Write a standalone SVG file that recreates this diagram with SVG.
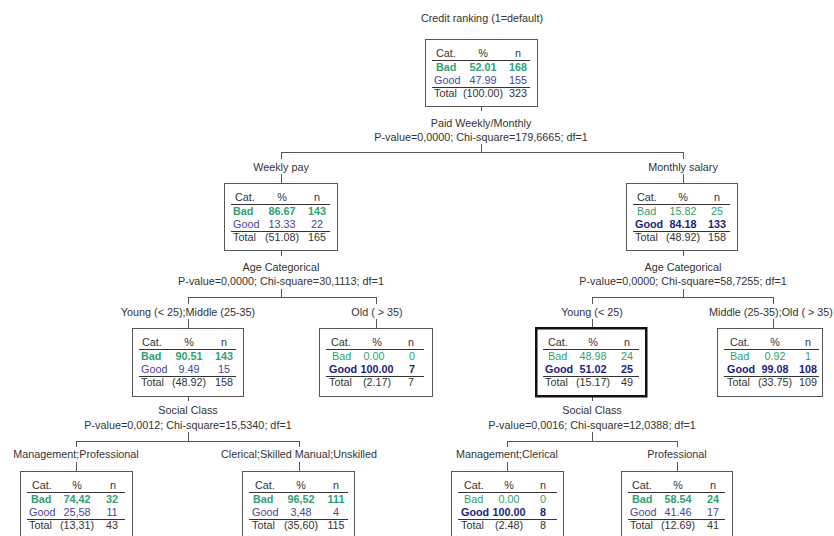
<svg xmlns="http://www.w3.org/2000/svg" width="834" height="536" viewBox="0 0 834 536">
<style>
text{font-family:"Liberation Sans",Arial,sans-serif;font-size:10.8px;fill:#333}
.m{text-anchor:middle}
.bad{fill:#2f9f74}
.good{fill:#45459a}
.b{font-weight:bold}
.good.b{fill:#1e1e7e}
.box{fill:#fff;stroke:#555;stroke-width:1}
.sel{fill:#fff;stroke:#111;stroke-width:2.5}
.rule{stroke:#333;stroke-width:1}
.con{fill:none;stroke:#555;stroke-width:1}
</style>
<rect width="834" height="536" fill="#fff"/>
<text class="m" x="482" y="22">Credit ranking (1=default)</text>

<g id="connectors">
<path class="con" d="M481.5,106V111M481.5,144V152M281,152.5H684M281.5,152V159M683.5,152V159M281.5,174V183M683.5,174V183"/>
<path class="con" d="M281.5,251V256M281.5,289V297M188,297.5H377M188.5,297V304M376.5,297V304M188.5,319V328M376.5,319V328"/>
<path class="con" d="M683.5,250V256M683.5,289V297M592,297.5H774M592.5,297V304M773.5,297V304M592.5,319V327M773.5,319V328"/>
<path class="con" d="M188.5,396V401M188.5,432V441M76,441.5H300M76.5,441V447M299.5,441V447M76.5,462V471M299.5,462V471"/>
<path class="con" d="M592.5,396V401M592.5,432V441M507,441.5H678M507.5,441V447M677.5,441V447M507.5,462V471M677.5,462V471"/>
</g>

<g id="split-labels">
<text class="m" x="481" y="127">Paid Weekly/Monthly</text>
<text class="m" x="481" y="141">P-value=0,0000; Chi-square=179,6665; df=1</text>
<text class="m" x="281" y="171">Weekly pay</text>
<text class="m" x="683" y="171">Monthly salary</text>
<text class="m" x="281" y="271">Age Categorical</text>
<text class="m" x="281" y="285">P-value=0,0000; Chi-square=30,1113; df=1</text>
<text class="m" x="683" y="271">Age Categorical</text>
<text class="m" x="683" y="285">P-value=0,0000; Chi-square=58,7255; df=1</text>
<text class="m" x="188" y="316">Young (&lt; 25);Middle (25-35)</text>
<text class="m" x="377" y="316">Old ( &gt; 35)</text>
<text class="m" x="592" y="316">Young (&lt; 25)</text>
<text class="m" x="771" y="316">Middle (25-35);Old ( &gt; 35)</text>
<text class="m" x="188" y="414">Social Class</text>
<text class="m" x="188" y="429">P-value=0,0012; Chi-square=15,5340; df=1</text>
<text class="m" x="592" y="414">Social Class</text>
<text class="m" x="592" y="429">P-value=0,0016; Chi-square=12,0388; df=1</text>
<text class="m" x="76" y="458">Management;Professional</text>
<text class="m" x="299" y="458">Clerical;Skilled Manual;Unskilled</text>
<text class="m" x="507" y="458">Management;Clerical</text>
<text class="m" x="677" y="458">Professional</text>
</g>

<g id="node0" transform="translate(425,39)">
<rect class="box" x="0.5" y="0.5" width="112" height="67"/>
<text x="11" y="18">Cat.</text><text class="m" x="58" y="18">%</text><text class="m" x="93" y="18">n</text>
<line class="rule" x1="7" y1="21.5" x2="105" y2="21.5"/>
<text class="bad b" x="11" y="32">Bad</text><text class="bad b m" x="58" y="32">52.01</text><text class="bad b m" x="93" y="32">168</text>
<text class="good" x="9" y="45">Good</text><text class="good m" x="58" y="45">47.99</text><text class="good m" x="93" y="45">155</text>
<line class="rule" x1="7" y1="48.5" x2="105" y2="48.5"/>
<text x="9" y="58">Total</text><text class="m" x="58" y="58">(100.00)</text><text class="m" x="93" y="58">323</text>
</g>

<g id="node1" transform="translate(224,183)">
<rect class="box" x="0.5" y="0.5" width="113" height="67"/>
<text x="11" y="18">Cat.</text><text class="m" x="58" y="18">%</text><text class="m" x="93" y="18">n</text>
<line class="rule" x1="7" y1="21.5" x2="106" y2="21.5"/>
<text class="bad b" x="9" y="32">Bad</text><text class="bad b m" x="58" y="32">86.67</text><text class="bad b m" x="93" y="32">143</text>
<text class="good" x="9" y="45">Good</text><text class="good m" x="58" y="45">13.33</text><text class="good m" x="93" y="45">22</text>
<line class="rule" x1="7" y1="48.5" x2="106" y2="48.5"/>
<text x="9" y="58">Total</text><text class="m" x="58" y="58">(51.08)</text><text class="m" x="93" y="58">165</text>
</g>

<g id="node2" transform="translate(626,183)">
<rect class="box" x="0.5" y="0.5" width="111" height="67"/>
<text x="11" y="18">Cat.</text><text class="m" x="57" y="18">%</text><text class="m" x="91" y="18">n</text>
<line class="rule" x1="7" y1="21.5" x2="104" y2="21.5"/>
<text class="bad" x="11" y="32">Bad</text><text class="bad m" x="57" y="32">15.82</text><text class="bad m" x="91" y="32">25</text>
<text class="good b" x="9" y="45">Good</text><text class="good b m" x="57" y="45">84.18</text><text class="good b m" x="91" y="45">133</text>
<line class="rule" x1="7" y1="48.5" x2="104" y2="48.5"/>
<text x="9" y="58">Total</text><text class="m" x="57" y="58">(48.92)</text><text class="m" x="91" y="58">158</text>
</g>

<g id="node3" transform="translate(132,328)">
<rect class="box" x="0.5" y="0.5" width="111" height="68"/>
<text x="10" y="18">Cat.</text><text class="m" x="57" y="18">%</text><text class="m" x="92" y="18">n</text>
<line class="rule" x1="7" y1="21.5" x2="104" y2="21.5"/>
<text class="bad b" x="9" y="32">Bad</text><text class="bad b m" x="57" y="32">90.51</text><text class="bad b m" x="92" y="32">143</text>
<text class="good" x="9" y="45">Good</text><text class="good m" x="57" y="45">9.49</text><text class="good m" x="92" y="45">15</text>
<line class="rule" x1="7" y1="48.5" x2="104" y2="48.5"/>
<text x="9" y="58">Total</text><text class="m" x="57" y="58">(48.92)</text><text class="m" x="92" y="58">158</text>
</g>

<g id="node4" transform="translate(319,328)">
<rect class="box" x="0.5" y="0.5" width="113" height="68"/>
<text x="12" y="18">Cat.</text><text class="m" x="58" y="18">%</text><text class="m" x="92" y="18">n</text>
<line class="rule" x1="7" y1="21.5" x2="105" y2="21.5"/>
<text class="bad" x="13" y="32">Bad</text><text class="bad m" x="55" y="32">0.00</text><text class="bad m" x="93" y="32">0</text>
<text class="good b" x="10" y="45">Good</text><text class="good b m" x="58" y="45">100.00</text><text class="good b m" x="93" y="45">7</text>
<line class="rule" x1="7" y1="48.5" x2="105" y2="48.5"/>
<text x="10" y="58">Total</text><text class="m" x="58" y="58">(2.17)</text><text class="m" x="92" y="58">7</text>
</g>

<g id="node5" transform="translate(535,327)">
<rect class="sel" x="1.25" y="1.25" width="110" height="68"/>
<text x="13" y="19">Cat.</text><text class="m" x="58" y="19">%</text><text class="m" x="92" y="19">n</text>
<line class="rule" x1="8" y1="22.5" x2="104" y2="22.5"/>
<text class="bad" x="13" y="33">Bad</text><text class="bad m" x="58" y="33">48.98</text><text class="bad m" x="92" y="33">24</text>
<text class="good b" x="10" y="46">Good</text><text class="good b m" x="58" y="46">51.02</text><text class="good b m" x="92" y="46">25</text>
<line class="rule" x1="8" y1="49.5" x2="104" y2="49.5"/>
<text x="10" y="59">Total</text><text class="m" x="58" y="59">(15.17)</text><text class="m" x="92" y="59">49</text>
</g>

<g id="node6" transform="translate(717,328)">
<rect class="box" x="0.5" y="0.5" width="105" height="68"/>
<text x="13" y="18">Cat.</text><text class="m" x="58" y="18">%</text><text class="m" x="91" y="18">n</text>
<line class="rule" x1="7" y1="21.5" x2="102" y2="21.5"/>
<text class="bad" x="13" y="32">Bad</text><text class="bad m" x="58" y="32">0.92</text><text class="bad m" x="91" y="32">1</text>
<text class="good b" x="10" y="45">Good</text><text class="good b m" x="58" y="45">99.08</text><text class="good b m" x="91" y="45">108</text>
<line class="rule" x1="7" y1="48.5" x2="102" y2="48.5"/>
<text x="10" y="58">Total</text><text class="m" x="58" y="58">(33.75)</text><text class="m" x="91" y="58">109</text>
</g>

<g id="node7" transform="translate(20,471)">
<rect class="box" x="0.5" y="0.5" width="112" height="68"/>
<text x="12" y="18">Cat.</text><text class="m" x="57" y="18">%</text><text class="m" x="93" y="18">n</text>
<line class="rule" x1="7" y1="21.5" x2="105" y2="21.5"/>
<text class="bad b" x="11" y="32">Bad</text><text class="bad b m" x="57" y="32">74,42</text><text class="bad b m" x="92" y="32">32</text>
<text class="good" x="9" y="45">Good</text><text class="good m" x="57" y="45">25,58</text><text class="good m" x="92" y="45">11</text>
<line class="rule" x1="7" y1="48.5" x2="105" y2="48.5"/>
<text x="9" y="58">Total</text><text class="m" x="57" y="58">(13,31)</text><text class="m" x="92" y="58">43</text>
</g>

<g id="node8" transform="translate(242,471)">
<rect class="box" x="0.5" y="0.5" width="112" height="68"/>
<text x="13" y="18">Cat.</text><text class="m" x="59" y="18">%</text><text class="m" x="94" y="18">n</text>
<line class="rule" x1="7" y1="21.5" x2="106" y2="21.5"/>
<text class="bad b" x="11" y="32">Bad</text><text class="bad b m" x="59" y="32">96,52</text><text class="bad b m" x="94" y="32">111</text>
<text class="good" x="10" y="45">Good</text><text class="good m" x="59" y="45">3,48</text><text class="good m" x="94" y="45">4</text>
<line class="rule" x1="7" y1="48.5" x2="106" y2="48.5"/>
<text x="10" y="58">Total</text><text class="m" x="59" y="58">(35,60)</text><text class="m" x="94" y="58">115</text>
</g>

<g id="node9" transform="translate(451,471)">
<rect class="box" x="0.5" y="0.5" width="112" height="68"/>
<text x="13" y="18">Cat.</text><text class="m" x="58" y="18">%</text><text class="m" x="92" y="18">n</text>
<line class="rule" x1="7" y1="21.5" x2="106" y2="21.5"/>
<text class="bad" x="13" y="32">Bad</text><text class="bad m" x="58" y="32">0.00</text><text class="bad m" x="92" y="32">0</text>
<text class="good b" x="10" y="45">Good</text><text class="good b m" x="58" y="45">100.00</text><text class="good b m" x="92" y="45">8</text>
<line class="rule" x1="7" y1="48.5" x2="106" y2="48.5"/>
<text x="10" y="58">Total</text><text class="m" x="58" y="58">(2.48)</text><text class="m" x="92" y="58">8</text>
</g>

<g id="node10" transform="translate(621,471)">
<rect class="box" x="0.5" y="0.5" width="111" height="68"/>
<text x="11" y="18">Cat.</text><text class="m" x="57" y="18">%</text><text class="m" x="92" y="18">n</text>
<line class="rule" x1="7" y1="21.5" x2="104" y2="21.5"/>
<text class="bad b" x="11" y="32">Bad</text><text class="bad b m" x="57" y="32">58.54</text><text class="bad b m" x="92" y="32">24</text>
<text class="good" x="9" y="45">Good</text><text class="good m" x="57" y="45">41.46</text><text class="good m" x="92" y="45">17</text>
<line class="rule" x1="7" y1="48.5" x2="104" y2="48.5"/>
<text x="9" y="58">Total</text><text class="m" x="57" y="58">(12.69)</text><text class="m" x="92" y="58">41</text>
</g>
</svg>
